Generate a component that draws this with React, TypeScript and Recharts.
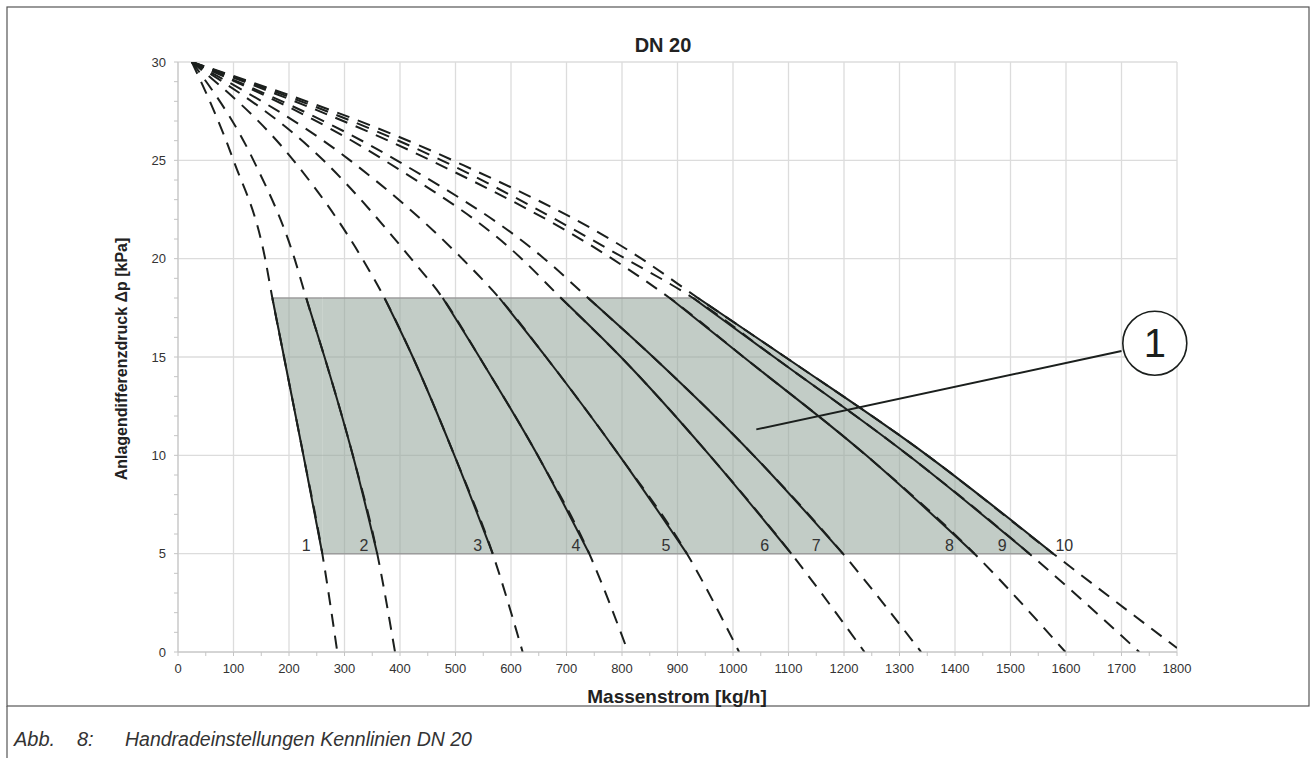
import {
  Area,
  CartesianGrid,
  ComposedChart,
  Line,
  ReferenceDot,
  ReferenceLine,
  Scatter,
  XAxis,
  YAxis,
} from "recharts";

// Anlagendifferenzdruck levels [kPa] at which the flows below were read
const PRESSURE = [30, 25, 20, 18, 15, 10, 5, 0];
const PRESSURE_10 = [30, 25, 20, 18, 15, 10, 5, 0.2];

// Massenstrom [kg/h] per Handradeinstellung 1..10
const flow1 = [25, 100, 157, 170, 191, 226, 260, 287];
const flow2 = [25, 136, 210, 231, 264, 315, 359, 391];
const flow3 = [25, 208, 332, 372, 423, 498, 567, 621];
const flow4 = [25, 262, 420, 477, 543, 648, 741, 811];
const flow5 = [25, 310, 512, 579, 663, 795, 917, 1011];
const flow6 = [25, 372, 619, 690, 798, 958, 1105, 1237];
const flow7 = [25, 394, 660, 739, 856, 1037, 1198, 1339];
const flow8 = [25, 455, 782, 886, 1019, 1240, 1435, 1599];
const flow9 = [25, 475, 806, 928, 1074, 1316, 1534, 1732];
const flow10 = [25, 495, 835, 937, 1094, 1350, 1577, 1800];

// working range (shaded): between 18 and 5 kPa
const RANGE_TOP = 18;
const RANGE_BOTTOM = 5;

// curve number labels, sitting on the 5 kPa edge
const labelNames = ["1", "2", "3", "4", "5", "6", "7", "8", "9", "10"];
const labelFlow = [231, 335, 540, 717, 879, 1057, 1150, 1390, 1485, 1597];

// callout "1"
const calloutCircle = { q: 1760, p: 15.7 };
const calloutFrom = { q: 1042, p: 11.32 };
const calloutTo = { q: 1700, p: 15.3 };

const xTicks = [
  0, 50, 100, 150, 200, 250, 300, 350, 400, 450, 500, 550, 600, 650, 700, 750, 800, 850, 900,
  950, 1000, 1050, 1100, 1150, 1200, 1250, 1300, 1350, 1400, 1450, 1500, 1550, 1600, 1650,
  1700, 1750, 1800,
];
const yTicks = [
  0, 1, 2, 3, 4, 5, 6, 7, 8, 9, 10, 11, 12, 13, 14, 15, 16, 17, 18, 19, 20, 21, 22, 23, 24, 25,
  26, 27, 28, 29, 30,
];
const xGrid = [0, 100, 200, 300, 400, 500, 600, 700, 800, 900, 1000, 1100, 1200, 1300, 1400, 1500, 1600, 1700, 1800];
const yGrid = [0, 5, 10, 15, 20, 25, 30];

const FONT = "'Liberation Sans', Arial, Helvetica, sans-serif";
const INK = "#1b1f1d";
const TEXT = "#333333";
const GRID = "#dcdcdc";
const FILL = "#93a59a";
const EDGE = "#9c9c9c";
const DASH = "13 9";

const flows = [flow1, flow2, flow3, flow4, flow5, flow6, flow7, flow8, flow9, flow10];
const curves = flows.map((f, i) => {
  const levels = i === 9 ? PRESSURE_10 : PRESSURE;
  const pts = f.map((q, j) => ({ q, p: levels[j] }));
  return {
    id: i + 1,
    pts,
    solid: pts.filter((pt) => pt.p <= RANGE_TOP && pt.p >= RANGE_BOTTOM),
  };
});

// shaded region in three pieces: strip right of curve 1, rectangle, strip left of curve 10
const leftEdge = curves[0].solid;
const rightEdge = curves[9].solid;
const leftStrip = leftEdge.map((pt) => ({ q: pt.q, range: [pt.p, RANGE_TOP] }));
const middleBlock = [
  { q: leftEdge[leftEdge.length - 1].q, range: [RANGE_BOTTOM, RANGE_TOP] },
  { q: rightEdge[0].q, range: [RANGE_BOTTOM, RANGE_TOP] },
];
const rightStrip = rightEdge.map((pt) => ({ q: pt.q, range: [RANGE_BOTTOM, pt.p] }));

const labelData = labelFlow.map((q, i) => ({ q, p: RANGE_BOTTOM, name: labelNames[i] }));

const XTick = (props: any) => {
  const { x, y, payload } = props;
  if (payload.value % 100 !== 0) return <g />;
  return (
    <text x={x} y={y} dy="0.71em" textAnchor="middle" fontSize={13} fill={TEXT} fontFamily={FONT}>
      {payload.value}
    </text>
  );
};

const YTick = (props: any) => {
  const { x, y, payload } = props;
  if (payload.value % 5 !== 0) return <g />;
  return (
    <text x={x} y={y} dy="0.355em" textAnchor="end" fontSize={13} fill={TEXT} fontFamily={FONT}>
      {payload.value}
    </text>
  );
};

const CurveLabel = (props: any) => {
  const { cx, cy, payload } = props;
  return (
    <text x={cx} y={cy - 3} textAnchor="middle" fontSize={16} fill={TEXT} fontFamily={FONT}>
      {payload.name}
    </text>
  );
};

const areaProps = {
  dataKey: "range",
  fill: FILL,
  fillOpacity: 0.57,
  stroke: EDGE,
  strokeWidth: 1.5,
  dot: false,
  activeDot: false,
  isAnimationActive: false,
};

export default function App() {
  return (
    <div style={{ position: "absolute", left: 0, top: 0, width: 1316, height: 758, background: "#fff" }}>
      <ComposedChart
        width={1316}
        height={758}
        margin={{ top: 62, right: 139, bottom: 76, left: 138 }}
        style={{ position: "absolute", left: 0, top: 0 }}
      >
        <CartesianGrid
          stroke={GRID}
          strokeWidth={1.3}
          verticalValues={xGrid}
          horizontalValues={yGrid}
        />
        <XAxis
          dataKey="q"
          type="number"
          domain={[0, 1800]}
          ticks={xTicks}
          interval={0}
          allowDataOverflow
          height={30}
          tickSize={4}
          tickMargin={8}
          stroke="#c4c4c4"
          tick={<XTick />}
        />
        <YAxis
          dataKey="p"
          type="number"
          domain={[0, 30]}
          ticks={yTicks}
          interval={0}
          allowDataOverflow
          width={40}
          tickSize={4}
          tickMargin={8}
          stroke="#c4c4c4"
          tick={<YTick />}
        />
        <Area data={leftStrip} type="monotone" {...areaProps} />
        <Area data={middleBlock} type="linear" {...areaProps} />
        <Area data={rightStrip} type="monotone" {...areaProps} />
        {curves.map((c) => (
          <Line
            key={`d${c.id}`}
            data={c.pts}
            dataKey="p"
            type="monotone"
            stroke={INK}
            strokeWidth={2}
            strokeDasharray={DASH}
            dot={false}
            activeDot={false}
            isAnimationActive={false}
          />
        ))}
        {curves.map((c) => (
          <Line
            key={`s${c.id}`}
            data={c.solid}
            dataKey="p"
            type="monotone"
            stroke={INK}
            strokeWidth={2}
            dot={false}
            activeDot={false}
            isAnimationActive={false}
          />
        ))}
        <Scatter data={labelData} dataKey="p" shape={<CurveLabel />} isAnimationActive={false} />
        <ReferenceLine
          segment={[
            { x: calloutFrom.q, y: calloutFrom.p },
            { x: calloutTo.q, y: calloutTo.p },
          ]}
          stroke={INK}
          strokeWidth={2}
        />
        <ReferenceDot
          x={calloutCircle.q}
          y={calloutCircle.p}
          r={32}
          fill="#fff"
          stroke={INK}
          strokeWidth={1.6}
          label={{ value: "1", position: "center", fontSize: 40, fill: INK, fontFamily: FONT }}
        />
      </ComposedChart>

      <svg
        width={1316}
        height={758}
        style={{ position: "absolute", left: 0, top: 0, pointerEvents: "none" }}
      >
        <rect x={7} y={7} width={1302} height={699} fill="none" stroke="#555" strokeWidth={1.2} />
        <line x1={7} y1={706} x2={7} y2={758} stroke="#555" strokeWidth={1.2} />
        <text x={663} y={52} textAnchor="middle" fontSize={20} fontWeight="bold" fill="#222" fontFamily={FONT}>
          DN 20
        </text>
        <text
          x={0}
          y={0}
          transform="translate(127 359) rotate(-90)"
          textAnchor="middle"
          fontSize={16}
          fontWeight="bold"
          fill="#222"
          fontFamily={FONT}
        >
          Anlagendifferenzdruck Δp [kPa]
        </text>
        <text x={677} y={703} textAnchor="middle" fontSize={19} fontWeight="bold" fill="#222" fontFamily={FONT}>
          Massenstrom [kg/h]
        </text>
        <text x={14} y={746} fontSize={20} fontStyle="italic" fill="#333" fontFamily={FONT}>
          Abb.
        </text>
        <text x={77} y={746} fontSize={20} fontStyle="italic" fill="#333" fontFamily={FONT}>
          8:
        </text>
        <text x={125} y={746} fontSize={19.5} fontStyle="italic" fill="#333" fontFamily={FONT}>
          Handradeinstellungen Kennlinien DN 20
        </text>
      </svg>
    </div>
  );
}
